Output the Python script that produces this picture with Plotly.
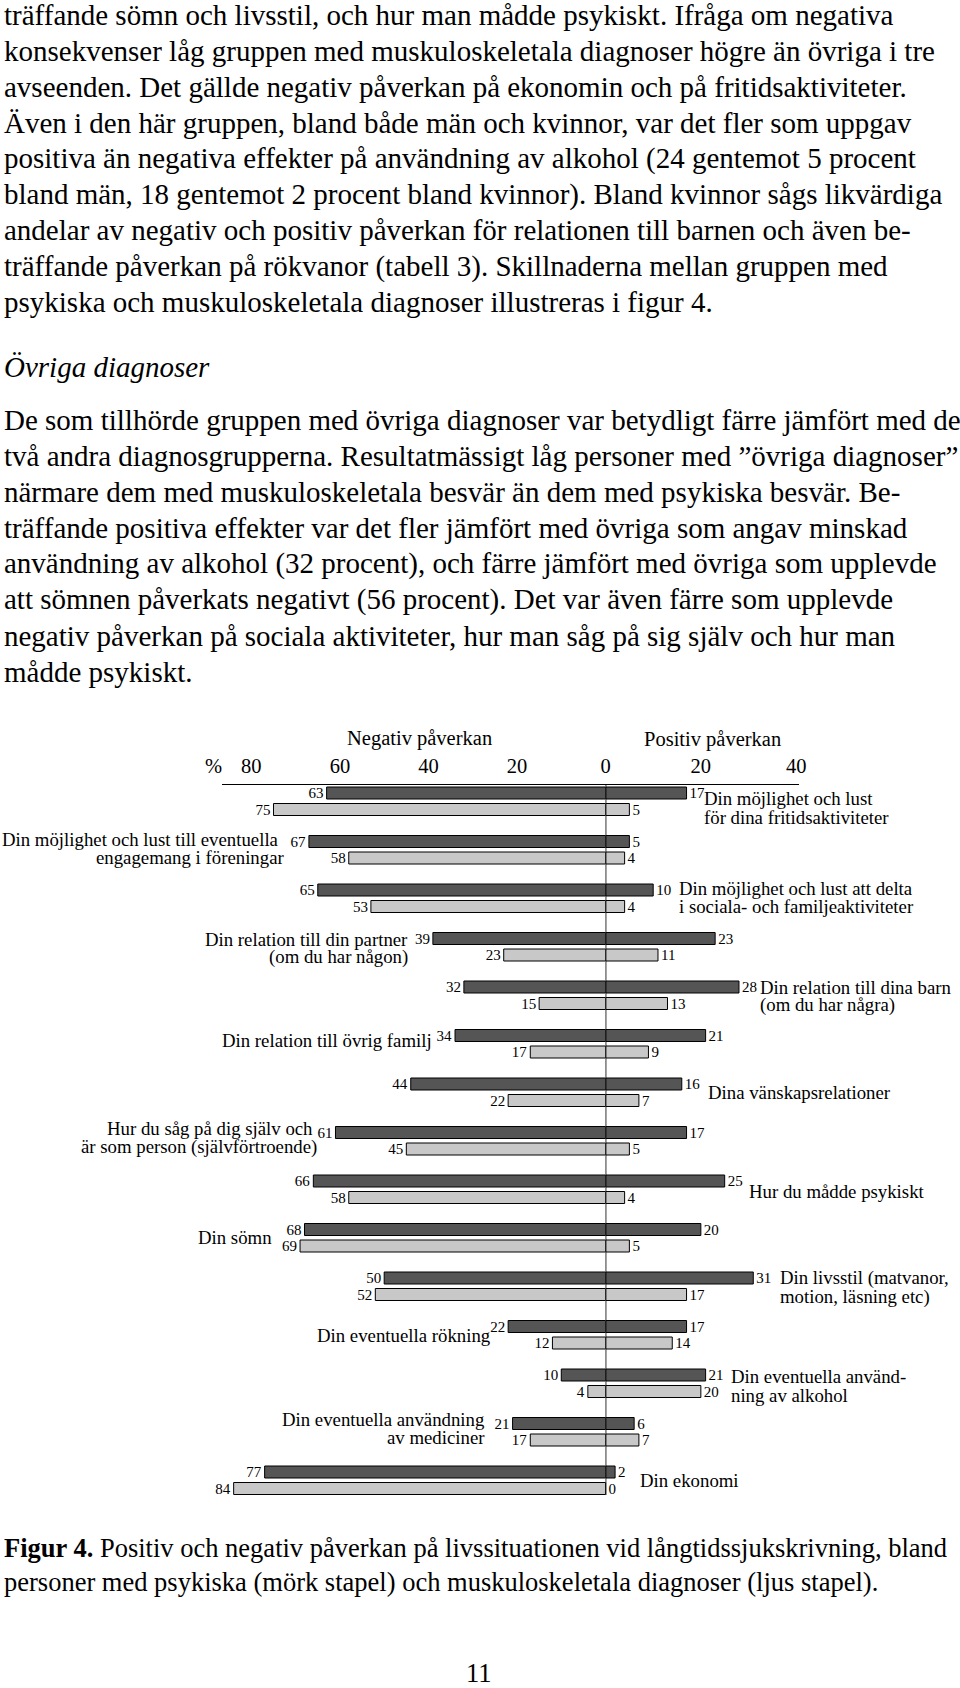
import plotly.graph_objects as go

# ---------------- data ----------------
categories = [
    "Din möjlighet och lust för dina fritidsaktiviteter",
    "Din möjlighet och lust till eventuella engagemang i föreningar",
    "Din möjlighet och lust att delta i sociala- och familjeaktiviteter",
    "Din relation till din partner (om du har någon)",
    "Din relation till dina barn (om du har några)",
    "Din relation till övrig familj",
    "Dina vänskapsrelationer",
    "Hur du såg på dig själv och är som person (självförtroende)",
    "Hur du mådde psykiskt",
    "Din sömn",
    "Din livsstil (matvanor, motion, läsning etc)",
    "Din eventuella rökning",
    "Din eventuella användning av alkohol",
    "Din eventuella användning av mediciner",
    "Din ekonomi",
]
# psykiska diagnoser (mörk stapel)
psyk_neg = [63, 67, 65, 39, 32, 34, 44, 61, 66, 68, 50, 22, 10, 21, 77]
psyk_pos = [17, 5, 10, 23, 28, 21, 16, 17, 25, 20, 31, 17, 21, 6, 2]
# muskuloskeletala diagnoser (ljus stapel)
musk_neg = [75, 58, 53, 23, 15, 17, 22, 45, 58, 69, 52, 12, 4, 17, 84]
musk_pos = [5, 4, 4, 11, 13, 9, 7, 5, 4, 5, 17, 14, 20, 7, 0]

neg_ticks = [80, 60, 40, 20, 0]
pos_ticks = [20, 40]

# category label lines as printed
label_lines = [
    ["Din möjlighet och lust", "för dina fritidsaktiviteter"],
    ["Din möjlighet och lust till eventuella", "engagemang i föreningar"],
    ["Din möjlighet och lust att delta", "i sociala- och familjeaktiviteter"],
    ["Din relation till din partner", "(om du har någon)"],
    ["Din relation till dina barn", "(om du har några)"],
    ["Din relation till övrig familj"],
    ["Dina vänskapsrelationer"],
    ["Hur du såg på dig själv och", "är som person (självförtroende)"],
    ["Hur du mådde psykiskt"],
    ["Din sömn"],
    ["Din livsstil (matvanor,", "motion, läsning etc)"],
    ["Din eventuella rökning"],
    ["Din eventuella använd-", "ning av alkohol"],
    ["Din eventuella användning", "av mediciner"],
    ["Din ekonomi"],
]

para1 = [
    "träffande sömn och livsstil, och hur man mådde psykiskt. Ifråga om negativa",
    "konsekvenser låg gruppen med muskuloskeletala diagnoser högre än övriga i tre",
    "avseenden. Det gällde negativ påverkan på ekonomin och på fritidsaktiviteter.",
    "Även i den här gruppen, bland både män och kvinnor, var det fler som uppgav",
    "positiva än negativa effekter på användning av alkohol (24 gentemot 5 procent",
    "bland män, 18 gentemot 2 procent bland kvinnor). Bland kvinnor sågs likvärdiga",
    "andelar av negativ och positiv påverkan för relationen till barnen och även be-",
    "träffande påverkan på rökvanor (tabell 3). Skillnaderna mellan gruppen med",
    "psykiska och muskuloskeletala diagnoser illustreras i figur 4.",
]
heading = "Övriga diagnoser"
para2 = [
    "De som tillhörde gruppen med övriga diagnoser var betydligt färre jämfört med de",
    "två andra diagnosgrupperna. Resultatmässigt låg personer med \u201dövriga diagnoser\u201d",
    "närmare dem med muskuloskeletala besvär än dem med psykiska besvär. Be-",
    "träffande positiva effekter var det fler jämfört med övriga som angav minskad",
    "användning av alkohol (32 procent), och färre jämfört med övriga som upplevde",
    "att sömnen påverkats negativt (56 procent). Det var även färre som upplevde",
    "negativ påverkan på sociala aktiviteter, hur man såg på sig själv och hur man",
    "mådde psykiskt.",
]
caption = [
    "<b>Figur 4.</b> Positiv och negativ påverkan på livssituationen vid långtidssjukskrivning, bland",
    "personer med psykiska (mörk stapel) och muskuloskeletala diagnoser (ljus stapel).",
]
page_no = "11"

# ---------------- layout constants (pixels) ----------------
W, H = 960, 1688
FONT = "Liberation Serif, Times New Roman, serif"
DARK = "#555555"
LIGHT = "#c8c8c8"

LEFT_PX, ZERO_PX, RIGHT_PX = 224, 610, 805
NEG_PX_PER_UNIT, POS_PX_PER_UNIT = 4.46, 4.8
TOP_PX, BOTTOM_PX = 785, 1500
ROW0_PX, ROW_STEP = 801.25, 48.5
BAR_PX, BAR_SEP_PX = 12.0, 16.5
ZERO_LINE_END_PX = 1495

# per-row label placement: (side, x_px per line, vertical offsets px per line)
label_place = [
    ("r", [709, 709], [-3, 16.5]),
    ("l", [281, 286], [-9.75, 7.5]),
    ("r", [684, 684], [-9.25, 8.5]),
    ("l", [411.5, 411.5], [-7.25, 10.5]),
    ("r", [766, 766], [-8, 9.75]),
    ("l", [434.8], [-3]),
    ("r", [713.4], [0]),
    ("l", [315.4, 319.7], [-12.5, 6]),
    ("r", [754.4], [2.5]),
    ("l", [274.3], [0]),
    ("r", [785.7, 785.7], [-8.25, 11]),
    ("l", [494.2], [1]),
    ("r", [736.7, 736.7], [-7.25, 12.5]),
    ("l", [488.7, 488.7], [-12.5, 6]),
    ("r", [644.8], [0]),
]


def pxx(x):
    return x / W


def pxy(y):
    return 1 - y / H


fig = go.Figure()

width_u = BAR_PX / ROW_STEP
half_sep_u = (BAR_SEP_PX / 2) / ROW_STEP
dark_off = -half_sep_u - width_u / 2
light_off = half_sep_u - width_u / 2

bar_common = dict(
    orientation="h",
    textposition="outside",
    textfont=dict(family=FONT, size=15, color="black"),
    cliponaxis=False,
    constraintext="none",
    width=width_u,
    hoverinfo="skip",
    showlegend=False,
)

# negative side (left axis)
fig.add_trace(go.Bar(
    y=categories, x=[-v for v in psyk_neg], text=[str(v) for v in psyk_neg],
    offset=dark_off, marker=dict(color=DARK, line=dict(color="black", width=1)),
    xaxis="x", yaxis="y", **bar_common))
fig.add_trace(go.Bar(
    y=categories, x=[-v for v in musk_neg], text=[str(v) for v in musk_neg],
    offset=light_off, marker=dict(color=LIGHT, line=dict(color="black", width=1)),
    xaxis="x", yaxis="y", **bar_common))
# positive side (right axis)
fig.add_trace(go.Bar(
    y=categories, x=psyk_pos, text=[str(v) for v in psyk_pos],
    offset=dark_off, marker=dict(color=DARK, line=dict(color="black", width=1)),
    xaxis="x2", yaxis="y", **bar_common))
fig.add_trace(go.Bar(
    y=categories, x=musk_pos, text=[str(v) for v in musk_pos],
    offset=light_off, marker=dict(color=LIGHT, line=dict(color="black", width=1)),
    xaxis="x2", yaxis="y", **bar_common))

y_top_u = -(ROW0_PX - TOP_PX) / ROW_STEP
y_bot_u = (BOTTOM_PX - ROW0_PX) / ROW_STEP

axis_common = dict(
    side="top", anchor="y", showline=True, linecolor="black", linewidth=1.5,
    ticks="", showgrid=False, zeroline=False, fixedrange=True,
    tickfont=dict(family=FONT, size=20.5, color="black"),
    ticklabelstandoff=2,
)

annotations = []


def text_ann(txt, x, y, size, xanchor="left", xref="paper", yref="paper", yshift=0, italic=False):
    annotations.append(dict(
        text=("<i>%s</i>" % txt) if italic else txt,
        x=x, y=y, xref=xref, yref=yref, xanchor=xanchor, yanchor="middle",
        yshift=yshift, showarrow=False, borderpad=0, borderwidth=0,
        font=dict(family=FONT, size=size, color="black"), align="left"))


BODY = 29.0
for k, line in enumerate(para1):
    text_ann(line, pxx(4), pxy(15.5 + 35.8 * k), BODY)
text_ann(heading, pxx(4), pxy(367), BODY, italic=True)
for k, line in enumerate(para2):
    text_ann(line, pxx(4), pxy(420 + 35.95 * k), BODY)
for k, line in enumerate(caption):
    text_ann(line, pxx(4), pxy(1548 + 33.7 * k), 26.5)
text_ann(page_no, pxx(483), pxy(1673), 26.5, xanchor="center")

# chart headings
text_ann("Negativ påverkan", pxx(423), pxy(738), 20.5, xanchor="center")
text_ann("Positiv påverkan", pxx(718), pxy(740), 20.5, xanchor="center")
text_ann("%", pxx(215.5), pxy(766), 20.5, xanchor="center")

# category labels
for i, (lines, (side, xs, offs)) in enumerate(zip(label_lines, label_place)):
    for line, xp, off in zip(lines, xs, offs):
        text_ann(line, pxx(xp), i, 18.8,
                 xanchor="left" if side == "r" else "right",
                 yref="y", yshift=-off)

fig.update_layout(
    width=W, height=H, autosize=False,
    margin=dict(l=0, r=0, t=0, b=0, pad=0),
    paper_bgcolor="white", plot_bgcolor="rgba(0,0,0,0)",
    barmode="overlay",
    xaxis=dict(domain=[pxx(LEFT_PX), pxx(ZERO_PX)],
               range=[-(ZERO_PX - LEFT_PX) / NEG_PX_PER_UNIT, 0],
               tickvals=[-t for t in neg_ticks], ticktext=[str(t) for t in neg_ticks],
               **axis_common),
    xaxis2=dict(domain=[pxx(ZERO_PX), pxx(RIGHT_PX)],
                range=[0, (RIGHT_PX - ZERO_PX) / POS_PX_PER_UNIT],
                tickvals=pos_ticks, ticktext=[str(t) for t in pos_ticks],
                **axis_common),
    yaxis=dict(domain=[pxy(BOTTOM_PX), pxy(TOP_PX)], range=[y_bot_u, y_top_u],
               type="category", anchor="x", showticklabels=False, showline=False,
               showgrid=False, zeroline=False, ticks="", fixedrange=True),
    shapes=[dict(type="line", xref="x2", yref="paper", x0=0, x1=0,
                 y0=pxy(TOP_PX), y1=pxy(ZERO_LINE_END_PX),
                 line=dict(color="black", width=1.6), layer="above")],
    annotations=annotations,
)

fig.write_html(
    "out.html",
    config={"displayModeBar": False, "staticPlot": True},
    post_script="document.body.style.margin='0px';document.body.style.overflow='hidden';",
)
